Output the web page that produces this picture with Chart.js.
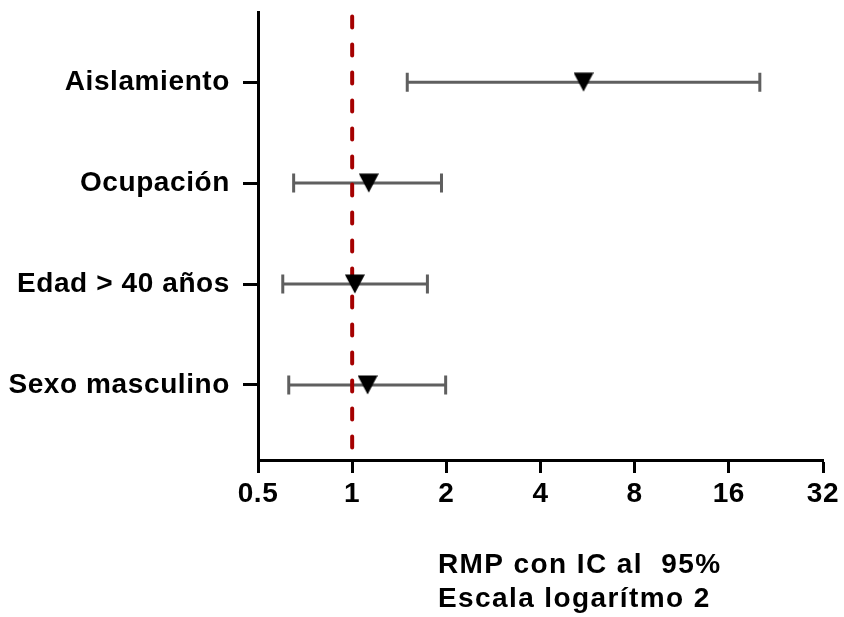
<!DOCTYPE html>
<html>
<head>
<meta charset="utf-8">
<script src="https://cdn.jsdelivr.net/npm/chart.js@4/dist/chart.umd.min.js"></script>
<style>
  html, body { margin: 0; padding: 0; background: #fff; }
  #wrap { width: 844px; height: 617px; }
</style>
</head>
<body>
<div id="wrap"><canvas id="forest"></canvas></div>
<script>
const categories = ['Aislamiento', 'Ocupación', 'Edad > 40 años', 'Sexo masculino'];
const oddsRatio = [5.49, 1.13, 1.02, 1.12];
const lowerCI = [1.50, 0.65, 0.60, 0.627];
const upperCI = [20.1, 1.93, 1.74, 1.99];
const xTicks = [0.5, 1, 2, 4, 8, 16, 32];
const titleLines = ['RMP con IC al  95%', 'Escala logarítmo 2'];

const FONT = "'Liberation Sans', Arial, Helvetica, sans-serif";
const rowY = i => categories.length - i;

// downward triangle marker
const tri = document.createElement('canvas');
tri.width = 20; tri.height = 20;
const tctx = tri.getContext('2d');
tctx.fillStyle = '#000';
tctx.beginPath();
tctx.moveTo(0, 0.5); tctx.lineTo(20, 0.5); tctx.lineTo(10, 19.5);
tctx.closePath(); tctx.fill();

const barDatasets = categories.map((c, i) => ({
  type: 'line',
  label: c,
  data: [{ x: lowerCI[i], y: rowY(i) }, { x: upperCI[i], y: rowY(i) }],
  borderColor: '#5f5f5f',
  borderWidth: 3,
  pointStyle: 'line',
  pointRotation: 90,
  pointRadius: 9.5,
  pointBorderWidth: 3,
  pointBorderColor: '#5f5f5f',
  order: 2,
}));

const refLine = {
  type: 'line',
  data: [{ x: 1, y: 4.65 }, { x: 1, y: 0.27 }],
  borderColor: '#a50000',
  borderWidth: 4,
  borderDash: [11, 17],
  borderCapStyle: 'round',
  pointRadius: 0,
  order: 1,
};

const points = {
  type: 'line',
  showLine: false,
  data: oddsRatio.map((v, i) => ({ x: v, y: rowY(i) })),
  pointStyle: tri,
  order: 0,
};

const tickSpacing = {
  id: 'tickSpacing',
  beforeDraw(chart) { chart.ctx.letterSpacing = '0.6px'; },
};

const axisTitle = {
  id: 'axisTitle',
  afterDraw(chart) {
    const ctx = chart.ctx;
    ctx.save();
    ctx.font = 'bold 28px ' + FONT;
    ctx.letterSpacing = '1.4px';
    ctx.fillStyle = '#000';
    ctx.textAlign = 'left';
    ctx.textBaseline = 'alphabetic';
    ctx.fillText(titleLines[0], 438, 573);
    ctx.fillText(titleLines[1], 438, 607);
    ctx.restore();
  }
};

new Chart(document.getElementById('forest').getContext('2d'), {
  data: { datasets: [...barDatasets, refLine, points] },
  options: {
    responsive: true,
    maintainAspectRatio: false,
    animation: false,
    layout: { padding: { left: 0, right: 21, top: 12, bottom: 0 } },
    plugins: { legend: { display: false }, tooltip: { enabled: false }, title: { display: false } },
    scales: {
      x: {
        type: 'logarithmic',
        min: 0.5,
        max: 32,
        afterBuildTicks: s => { s.ticks = xTicks.map(v => ({ value: v })); },
        afterFit: s => { s.height = 157; },
        ticks: {
          color: '#000', padding: 4, maxRotation: 0, autoSkip: false,
          font: { family: FONT, size: 28, weight: 'bold' },
          callback: v => String(v),
        },
        grid: { drawOnChartArea: false, drawTicks: true, tickLength: 13, tickWidth: 3, tickColor: '#000' },
        border: { display: true, color: '#000', width: 3 },
      },
      y: {
        type: 'linear',
        min: 0.257,
        max: 4.69,
        afterBuildTicks: s => { s.ticks = categories.map((c, i) => ({ value: rowY(i) })); },
        afterFit: s => { s.width = 258; s.paddingTop = 0; s.paddingBottom = 0; },
        ticks: {
          color: '#000', padding: 13, autoSkip: false,
          font: { family: FONT, size: 28, weight: 'bold' },
          callback: v => categories[categories.length - v],
        },
        grid: { drawOnChartArea: false, drawTicks: true, tickLength: 15, tickWidth: 3, tickColor: '#000' },
        border: { display: true, color: '#000', width: 3 },
      },
    },
  },
  plugins: [tickSpacing, axisTitle],
});
</script>
</body>
</html>
